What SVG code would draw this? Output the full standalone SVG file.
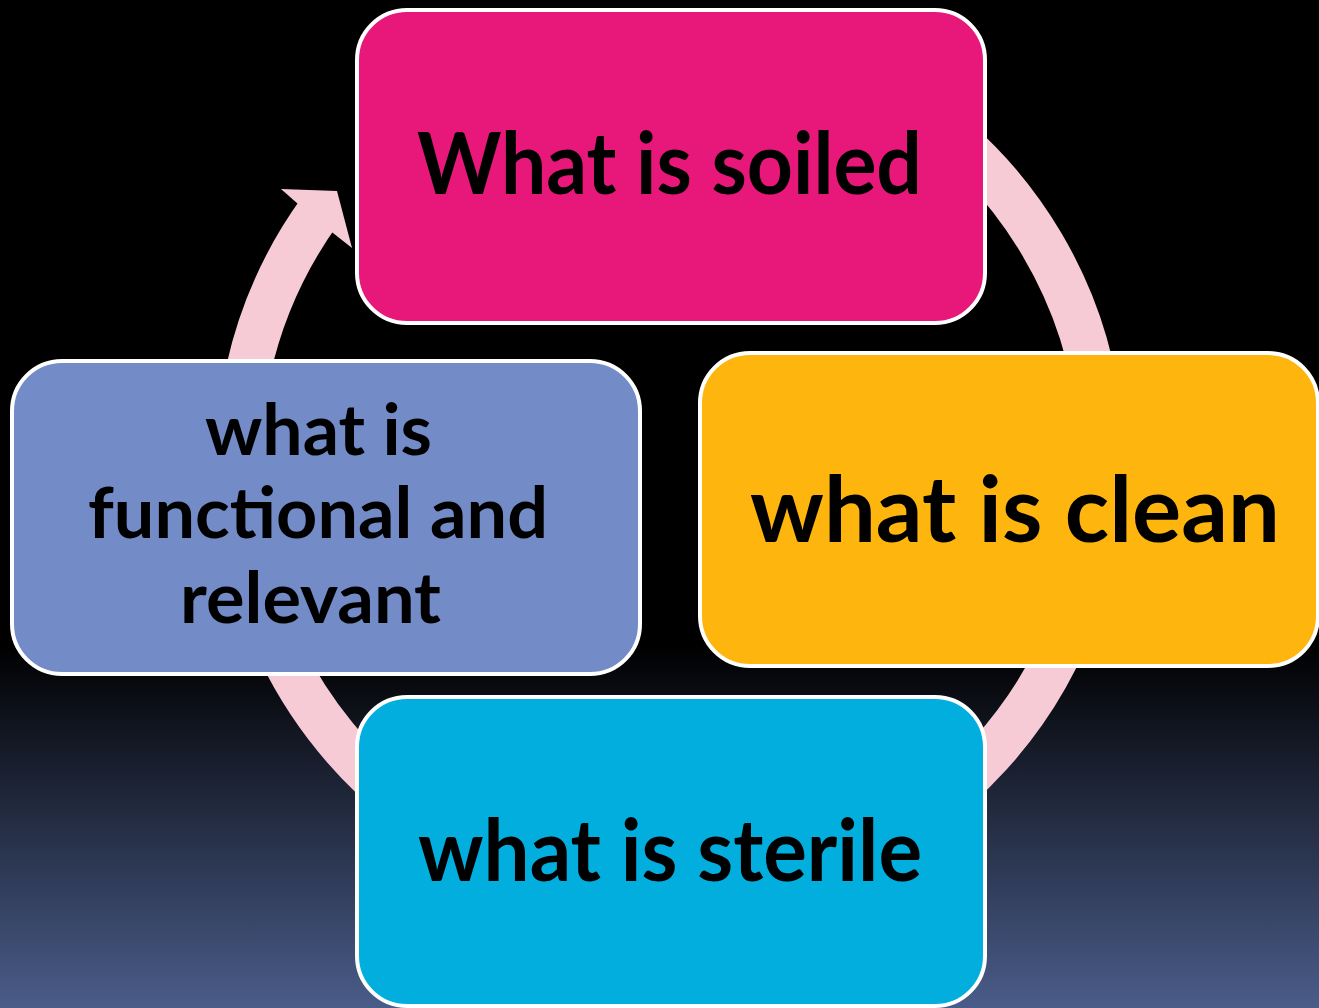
<svg xmlns="http://www.w3.org/2000/svg" width="1319" height="1008" viewBox="0 0 1319 1008">
  <defs>
    <linearGradient id="bg" x1="0" y1="0" x2="0" y2="1008" gradientUnits="userSpaceOnUse">
      <stop offset="0" stop-color="#000000"/>
      <stop offset="0.64" stop-color="#000000"/>
      <stop offset="1" stop-color="#4a5c89"/>
    </linearGradient>
    <style>
      .box { stroke: #ffffff; stroke-width: 4; }
      .lbl { font-family: Lato, "Liberation Sans", sans-serif; font-weight: 700; fill: #000000; text-anchor: middle; }
      .ring { fill: none; stroke: #f6cbd6; stroke-width: 45; stroke-linecap: butt; }
    </style>
  </defs>
  <rect x="0" y="0" width="1319" height="1008" fill="url(#bg)"/>
  <g id="connectors">
    <path class="ring" d="M 745 38.6 A 432 432 0 1 1 320.5 210.1"/>
    <polygon points="298,204 281,189 337,191 352,248 333,233" fill="#f6cbd6"/>
  </g>
  <g id="node-soiled">
    <rect class="box" x="357" y="10" width="628" height="313" rx="50" fill="#e8177a"/>
    <text class="lbl" x="669.5" y="194" font-size="86" textLength="505" lengthAdjust="spacingAndGlyphs">What is soiled</text>
  </g>
  <g id="node-clean">
    <rect class="box" x="700" y="353" width="618" height="313" rx="50" fill="#feb60e"/>
    <text class="lbl" x="1015" y="542" font-size="92" textLength="530" lengthAdjust="spacingAndGlyphs">what is clean</text>
  </g>
  <g id="node-sterile">
    <rect class="box" x="357" y="697" width="628" height="309" rx="50" fill="#02aedd"/>
    <text class="lbl" x="670" y="881" font-size="86" textLength="504" lengthAdjust="spacingAndGlyphs">what is sterile</text>
  </g>
  <g id="node-functional">
    <rect class="box" x="12" y="361" width="628" height="313" rx="50" fill="#738bc7"/>
    <text class="lbl" x="318.5" y="455" font-size="71" textLength="227" lengthAdjust="spacingAndGlyphs">what is</text>
    <text class="lbl" x="318" y="538" font-size="71" textLength="460" lengthAdjust="spacingAndGlyphs">functional and</text>
    <text class="lbl" x="310.5" y="623" font-size="71" textLength="261" lengthAdjust="spacingAndGlyphs">relevant</text>
  </g>
</svg>
